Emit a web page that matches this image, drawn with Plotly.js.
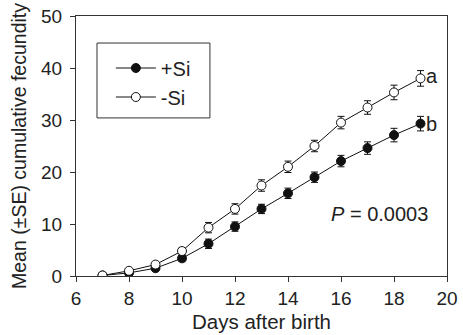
<!DOCTYPE html>
<html>
<head>
<meta charset="utf-8">
<script src="https://cdn.plot.ly/plotly-3.0.1.min.js"></script>
<style>html,body{margin:0;padding:0;background:#fff;}#chart{width:463px;height:335px;}</style>
</head>
<body>
<div id="chart"></div>
<script>
const days = [7, 8, 9, 10, 11, 12, 13, 14, 15, 16, 17, 18, 19];
const plusSi = [0.1, 0.6, 1.5, 3.4, 6.2, 9.5, 12.9, 15.9, 19.0, 22.1, 24.6, 27.1, 29.3];
const plusSiSE = [0.05, 0.2, 0.3, 0.6, 0.9, 0.9, 0.9, 1.0, 1.0, 1.1, 1.2, 1.3, 1.4];
const minusSi = [0.1, 1.0, 2.2, 4.8, 9.3, 12.9, 17.4, 21.0, 25.0, 29.5, 32.4, 35.3, 38.0];
const minusSiSE = [0.05, 0.2, 0.3, 0.6, 1.0, 1.0, 1.1, 1.1, 1.1, 1.2, 1.3, 1.4, 1.5];
const seriesNames = ['+Si', '-Si'];
const letters = ['a', 'b'];
const pText = '<i>P</i> = 0.0003';

const fam = 'Liberation Sans, Arial, sans-serif';
const tickFont = {family: fam, size: 19, color: '#222'};
const xTitleFont = {family: fam, size: 20.5, color: '#222'};
const yTitleFont = {family: fam, size: 19.5, color: '#222'};
const textFont = {family: fam, size: 20, color: '#222'};

const traces = [
  {
    x: days, y: plusSi, name: seriesNames[0], type: 'scatter', mode: 'lines+markers',
    line: {color: '#111', width: 1},
    marker: {symbol: 'circle', size: 9, color: '#111', line: {color: '#111', width: 1}},
    error_y: {type: 'data', array: plusSiSE, visible: true, color: '#111', thickness: 1, width: 3.5}
  },
  {
    x: days, y: minusSi, name: seriesNames[1], type: 'scatter', mode: 'lines+markers',
    line: {color: '#111', width: 1},
    marker: {symbol: 'circle', size: 9, color: '#fff', line: {color: '#111', width: 1}},
    error_y: {type: 'data', array: minusSiSE, visible: true, color: '#111', thickness: 1, width: 3.5}
  }
];

const last = days.length - 1;
const layout = {
  width: 463, height: 335,
  margin: {l: 76, r: 16, t: 16, b: 59},
  paper_bgcolor: '#fff', plot_bgcolor: '#fff',
  font: textFont,
  showlegend: true,
  legend: {
    x: 0.094, y: 0.875, xanchor: 'left', yanchor: 'top',
    borderwidth: 0, bgcolor: 'rgba(0,0,0,0)',
    font: textFont,
    tracegroupgap: 0, itemwidth: 40
  },
  xaxis: {
    range: [6, 20], dtick: 2, tick0: 6,
    showgrid: false, zeroline: false,
    showline: true, linecolor: '#333', linewidth: 1, mirror: true,
    ticks: 'outside', ticklen: 5, tickcolor: '#333',
    tickfont: tickFont,
    title: {text: 'Days after birth', font: xTitleFont, standoff: 6}
  },
  yaxis: {
    range: [0, 50], dtick: 10,
    showgrid: false, zeroline: false,
    showline: true, linecolor: '#333', linewidth: 1, mirror: true,
    ticks: 'outside', ticklen: 5, tickcolor: '#333',
    ticklabelstandoff: 4,
    tickfont: tickFont,
    title: {text: 'Mean (±SE) cumulative fecundity', font: yTitleFont, standoff: 9}
  },
  shapes: [
    {type: 'rect', xref: 'paper', yref: 'paper', x0: 0.0566, x1: 0.361, y0: 0.608, y1: 0.896,
     line: {color: '#333', width: 1}, fillcolor: 'rgba(0,0,0,0)', layer: 'above'}
  ],
  annotations: [
    {x: days[last], y: minusSi[last], xref: 'x', yref: 'y', text: letters[0], showarrow: false,
     xanchor: 'left', xshift: 3, yshift: 2, font: textFont},
    {x: days[last], y: plusSi[last], xref: 'x', yref: 'y', text: letters[1], showarrow: false,
     xanchor: 'left', xshift: 3, yshift: 0, font: textFont},
    {x: 15.55, y: 11.9, xref: 'x', yref: 'y', text: pText, showarrow: false,
     xanchor: 'left', font: textFont}
  ]
};

Plotly.newPlot('chart', traces, layout, {displayModeBar: false, staticPlot: true});
</script>
</body>
</html>
